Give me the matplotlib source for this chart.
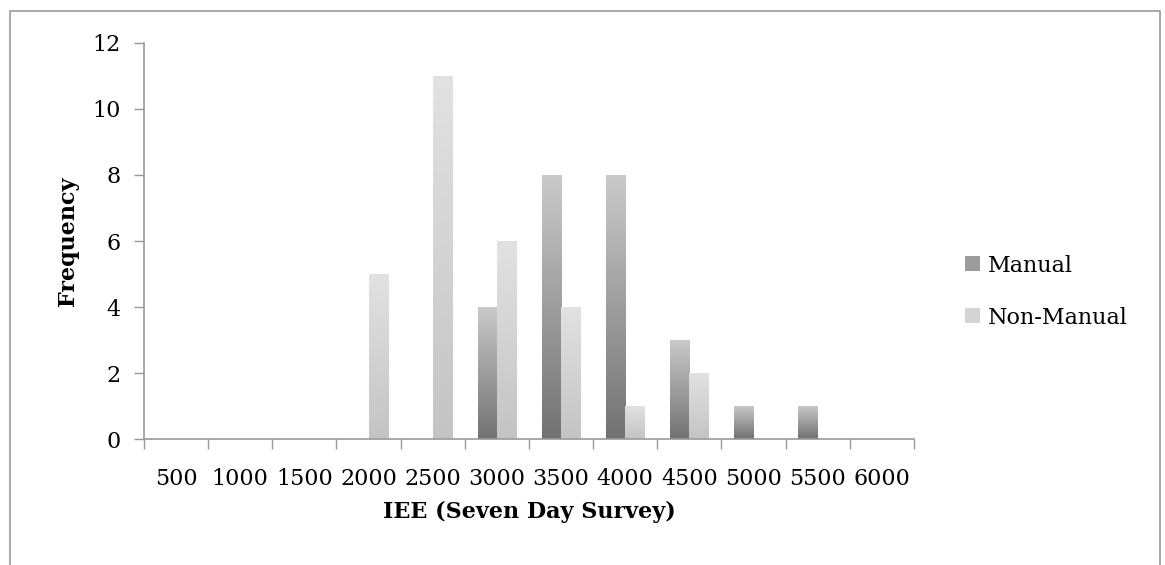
import matplotlib

matplotlib.use("Agg")
import matplotlib.pyplot as plt
import numpy as np
from matplotlib.colors import LinearSegmentedColormap
from matplotlib.patches import Patch, Rectangle

plt.rcParams["font.family"] = ["DejaVu Serif"]

categories = ["500", "1000", "1500", "2000", "2500", "3000",
              "3500", "4000", "4500", "5000", "5500", "6000"]
manual = [0, 0, 0, 0, 0, 4, 8, 8, 3, 1, 1, 0]
non_manual = [0, 0, 0, 5, 11, 6, 4, 1, 2, 0, 0, 0]

manual_cmap = LinearSegmentedColormap.from_list("manual", ["#727272", "#cacaca"])
non_manual_cmap = LinearSegmentedColormap.from_list("nonmanual", ["#c4c4c4", "#e2e2e2"])

FS = 16

fig = plt.figure(figsize=(11.65, 5.65), dpi=100)
ax = fig.add_axes([0.1236, 0.2230, 0.6609, 0.7009])

# outer chart frame (bottom edge falls off the picture)
fig.patches.append(Rectangle((10 / 1165, -0.05), 1150 / 1165, 1.05 - 11 / 565,
                             transform=fig.transFigure, fill=False,
                             edgecolor="#9a9a9a", linewidth=1.2))

x = np.arange(len(categories))
width = 0.3


def gradient_bars(xs, heights, cmap):
    bars = ax.bar(xs, heights, width=width, align="edge", color="none",
                  edgecolor="none")
    grad = np.linspace(0, 1, 256).reshape(-1, 1)
    for b, h in zip(bars, heights):
        if h <= 0:
            continue
        x0 = b.get_x()
        im = ax.imshow(grad, cmap=cmap, origin="lower", aspect="auto",
                       extent=[x0, x0 + b.get_width(), 0, h], zorder=2)
        im.set_clip_path(b)
    return bars


gradient_bars(x - width, manual, manual_cmap)
gradient_bars(x, non_manual, non_manual_cmap)

ax.set_xlim(-0.5, len(categories) - 0.5)
ax.set_ylim(0, 12)
ax.set_yticks(range(0, 13, 2))
ax.set_xticks(x)
ax.set_xticklabels(categories)
ax.set_xticks(np.arange(-0.5, len(categories)), minor=True)
ax.tick_params(axis="x", which="major", length=0, pad=21, labelsize=FS)
ax.tick_params(axis="x", which="minor", length=7, color="#999999", width=1)
ax.tick_params(axis="y", length=7, color="#999999", width=1, pad=10, labelsize=FS)

for side in ("top", "right"):
    ax.spines[side].set_visible(False)
for side in ("left", "bottom"):
    ax.spines[side].set_color("#999999")
    ax.spines[side].set_linewidth(1.2)

ax.set_xlabel("IEE (Seven Day Survey)", fontsize=FS, fontweight="bold", va="top")
ax.xaxis.set_label_coords(0.5, -0.157)
ax.set_ylabel("Frequency", fontsize=FS, fontweight="bold")
ax.yaxis.set_label_coords(-0.084, 0.5)

handles = [Patch(facecolor="#9c9c9c", edgecolor="none", label="Manual"),
           Patch(facecolor="#d4d4d4", edgecolor="none", label="Non-Manual")]
fig.legend(handles=handles, loc="center left", bbox_to_anchor=(0.811, 0.484),
           frameon=False, fontsize=FS, handlelength=0.68, handleheight=0.68,
           handletextpad=0.35, labelspacing=1.35)

fig.savefig("out.png", dpi=100)
